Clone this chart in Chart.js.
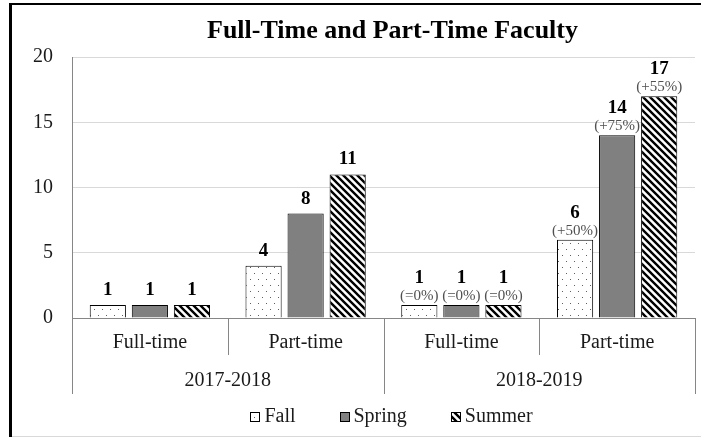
<!DOCTYPE html>
<html>
<head>
<meta charset="utf-8">
<title>Full-Time and Part-Time Faculty</title>
<script src="https://cdn.jsdelivr.net/npm/chart.js@4.4.0/dist/chart.umd.min.js"></script>
<style>
  html, body { margin: 0; padding: 0; background: #fff; }
  #wrap { width: 701px; height: 439px; position: relative; }
</style>
</head>
<body>
<div id="wrap"><canvas id="myChart"></canvas></div>
<script>
// faculty counts per term, grouped by year and type
var categories = ["Full-time", "Part-time", "Full-time", "Part-time"];
var years = ["2017-2018", "2018-2019"];
var fall_values = [1, 4, 1, 6];
var spring_values = [1, 8, 1, 14];
var summer_values = [1, 11, 1, 17];
var fall_change = [null, null, "(=0%)", "(+50%)"];
var spring_change = [null, null, "(=0%)", "(+75%)"];
var summer_change = [null, null, "(=0%)", "(+55%)"];
var title_text = "Full-Time and Part-Time Faculty";

var FONT = "'Liberation Serif', 'Times New Roman', serif";
var AXIS_GRAY = "#868686";

var ctx = document.getElementById('myChart').getContext('2d');

// dotted fill for Fall
function dot_pattern() {
    var c = document.createElement('canvas');
    c.width = 8;
    c.height = 12;
    var p = c.getContext('2d');
    p.fillStyle = '#fff';
    p.fillRect(0, 0, 8, 12);
    p.fillStyle = '#606060';
    p.fillRect(2, 3, 1, 1);
    p.fillRect(6, 9, 1, 1);
    return ctx.createPattern(c, 'repeat');
}

// diagonal stripes for Summer
function stripe_pattern() {
    var s = 7;
    var c = document.createElement('canvas');
    c.width = s;
    c.height = s;
    var p = c.getContext('2d');
    p.fillStyle = '#fff';
    p.fillRect(0, 0, s, s);
    p.strokeStyle = '#000';
    p.lineWidth = 2.4;
    p.beginPath();
    p.moveTo(-1, -1); p.lineTo(s + 1, s + 1);
    p.moveTo(-1, s - 1); p.lineTo(1, s + 1);
    p.moveTo(s - 1, -1); p.lineTo(s + 1, 1);
    p.stroke();
    return ctx.createPattern(c, 'repeat');
}

var changes = [fall_change, spring_change, summer_change];

var decorations = {
    id: 'decorations',
    afterDatasetsDraw: function(chart) {
        var c = chart.ctx;
        c.save();
        c.textAlign = 'center';
        c.textBaseline = 'middle';
        chart.data.datasets.forEach(function(ds, di) {
            var meta = chart.getDatasetMeta(di);
            meta.data.forEach(function(bar, i) {
                var pct = changes[di][i];
                c.fillStyle = '#000';
                c.font = "bold 19px " + FONT;
                if (pct) {
                    c.fillText(ds.data[i], bar.x, bar.y - 27);
                    c.font = "15px " + FONT;
                    c.fillStyle = '#505050';
                    c.fillText(pct, bar.x, bar.y - 9);
                } else {
                    c.fillText(ds.data[i], bar.x, bar.y - 15);
                }
            });
        });
        c.restore();
    },
    afterDraw: function(chart) {
        var c = chart.ctx;
        var area = chart.chartArea;
        var xs = chart.scales.x;
        var base = area.bottom;
        c.save();

        // title
        c.fillStyle = '#000';
        c.textAlign = 'center';
        c.textBaseline = 'middle';
        c.font = "bold 26px " + FONT;
        c.fillText(title_text, (area.left + area.right) / 2 + 9, 31);

        // two-level category axis
        var centers = categories.map(function(_, i) { return xs.getPixelForValue(i); });
        var bounds = [area.left];
        for (var i = 0; i < centers.length - 1; i++) {
            bounds.push((centers[i] + centers[i + 1]) / 2);
        }
        bounds.push(area.right);

        c.strokeStyle = AXIS_GRAY;
        c.lineWidth = 1;
        c.beginPath();
        bounds.forEach(function(bx, i) {
            var x = Math.round(bx) + 0.5;
            c.moveTo(x, base);
            c.lineTo(x, i % 2 == 0 ? 394 : 355);
        });
        c.stroke();

        c.fillStyle = '#1a1a1a';
        c.font = "20px " + FONT;
        centers.forEach(function(cx, i) {
            c.fillText(categories[i], cx, 343);
        });
        years.forEach(function(y, i) {
            c.fillText(y, (bounds[i * 2] + bounds[i * 2 + 2]) / 2, 381);
        });

        // legend
        var sets = chart.data.datasets;
        var box = 10, gap = 4, spacing = 44;
        var widths = sets.map(function(ds) { return box + gap + c.measureText(ds.label).width; });
        var total = widths.reduce(function(a, b) { return a + b; }, 0) + spacing * (sets.length - 1);
        var lx = (area.left + area.right) / 2 + 8 - total / 2;
        var ly = 417;
        c.textAlign = 'left';
        sets.forEach(function(ds, i) {
            c.fillStyle = ds.backgroundColor;
            c.fillRect(Math.round(lx), ly - 5, box, box);
            c.strokeStyle = '#000';
            c.strokeRect(Math.round(lx) + 0.5, ly - 4.5, box - 1, box - 1);
            c.fillStyle = '#1a1a1a';
            c.fillText(ds.label, lx + box + gap, ly);
            lx += widths[i] + spacing;
        });

        // outer frame
        c.fillStyle = '#000';
        c.fillRect(9, 3, 3, 434);
        c.fillRect(9, 3, 692, 2);
        c.fillStyle = '#d9d9d9';
        c.fillRect(12, 436, 689, 1);
        c.restore();
    }
};

var myChart = new Chart(ctx, {
    type: 'bar',
    data: {
        labels: categories,
        datasets: [
        {
            label: "Fall",
            data: fall_values,
            backgroundColor: dot_pattern(),
            borderColor: '#000',
            borderWidth: 1
        },
        {
            label: "Spring",
            data: spring_values,
            backgroundColor: '#808080',
            borderColor: '#000',
            borderWidth: 1
        },
        {
            label: "Summer",
            data: summer_values,
            backgroundColor: stripe_pattern(),
            borderColor: '#000',
            borderWidth: 1
        }]
    },
    options: {
        responsive: true,
        maintainAspectRatio: false,
        animation: false,
        layout: {
            padding: { top: 57, right: 6, bottom: 0, left: 0 }
        },
        categoryPercentage: 0.81,
        barPercentage: 0.86,
        plugins: {
            legend: { display: false },
            title: { display: false },
            tooltip: { enabled: false }
        },
        scales: {
            x: {
                grid: { display: false },
                border: { display: true, color: AXIS_GRAY },
                ticks: { display: false },
                afterFit: function(scale) { scale.height = 121; }
            },
            y: {
                min: 0,
                max: 20,
                ticks: {
                    stepSize: 5,
                    padding: 19,
                    color: '#1a1a1a',
                    font: { family: FONT, size: 20 }
                },
                grid: {
                    drawTicks: false,
                    color: function(c) { return c.tick.value == 0 ? 'rgba(0,0,0,0)' : '#d9d9d9'; }
                },
                border: { display: true, color: AXIS_GRAY },
                afterFit: function(scale) { scale.width = 72; }
            }
        }
    },
    plugins: [decorations]
});
</script>
</body>
</html>
